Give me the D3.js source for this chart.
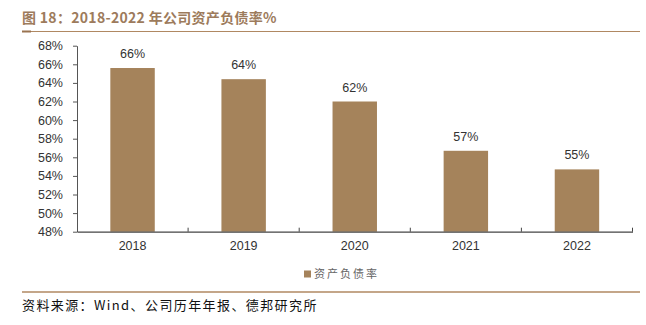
<!DOCTYPE html>
<html>
<head>
<meta charset="utf-8">
<script src="https://cdn.jsdelivr.net/npm/d3@7/dist/d3.min.js"></script>
<style>
  html, body { margin: 0; padding: 0; background: #fff; }
  svg { display: block; }
</style>
</head>
<body>
<svg id="chart" width="646" height="325"></svg>
<script>
// Debt-to-asset ratio by year (%)
const years = ["2018", "2019", "2020", "2021", "2022"];
const ratios = [65.6, 64.4, 62.0, 56.7, 54.7];
const valueLabels = ["66%", "64%", "62%", "57%", "55%"];
const yTicks = [48, 50, 52, 54, 56, 58, 60, 62, 64, 66, 68];
const seriesName = "资产负债率";
const titleText = "图 18：2018-2022 年公司资产负债率%";
const sourceText = "资料来源：Wind、公司历年年报、德邦研究所";

const svg = d3.select("#chart");
const brown = "#a5835b";
const latin = "'Liberation Sans', Arial, sans-serif";
const cjk = "'Noto Sans CJK SC', 'Liberation Sans', sans-serif";

const plot = { left: 77, right: 632.5, top: 45.7, bottom: 231.7 };

const x = d3.scaleBand().domain(years).range([plot.left, plot.right]).paddingInner(0.6).paddingOuter(0.3);
const y = d3.scaleLinear().domain([48, 68]).range([plot.bottom, plot.top]);

// Title and rules
svg.append("text")
  .attr("x", 22).attr("y", 23)
  .attr("font-family", cjk).attr("font-size", 14).attr("font-weight", "bold")
  .attr("letter-spacing", 0.3)
  .attr("fill", "#9d7b5c")
  .text(titleText);
svg.append("line")
  .attr("x1", 22).attr("x2", 640).attr("y1", 31.5).attr("y2", 31.5)
  .attr("stroke", "#b08862").attr("stroke-width", 1.2);
svg.append("line")
  .attr("x1", 22).attr("x2", 31).attr("y1", 31.5).attr("y2", 31.5)
  .attr("stroke", "#9a7350").attr("stroke-width", 2);
svg.append("line")
  .attr("x1", 22).attr("x2", 640).attr("y1", 292).attr("y2", 292)
  .attr("stroke", "#b08862").attr("stroke-width", 1.6);

// Bars
svg.append("g").selectAll("rect")
  .data(years)
  .join("rect")
  .attr("x", (d) => x(d))
  .attr("width", x.bandwidth())
  .attr("y", (d, i) => y(ratios[i]))
  .attr("height", (d, i) => y(48) - y(ratios[i]))
  .attr("fill", brown);

// Value labels
svg.append("g").selectAll("text")
  .data(years)
  .join("text")
  .attr("x", (d) => x(d) + x.bandwidth() / 2)
  .attr("y", (d, i) => y(ratios[i]) - 10)
  .attr("text-anchor", "middle")
  .attr("font-family", latin).attr("font-size", 12.5)
  .attr("fill", "#333")
  .text((d, i) => valueLabels[i]);

// Y axis
const yAxis = svg.append("g")
  .attr("transform", `translate(${plot.left},0)`)
  .call(d3.axisLeft(y).tickValues(yTicks).tickFormat((d) => d + "%").tickSize(4).tickSizeOuter(0));
yAxis.select(".domain").attr("stroke", "#555");
yAxis.selectAll(".tick line").attr("stroke", "#555");
yAxis.selectAll(".tick text")
  .attr("x", -14)
  .attr("font-family", latin).attr("font-size", 12.5).attr("fill", "#333");

// X axis with inward ticks at band boundaries
const xAxis = svg.append("g")
  .attr("transform", `translate(0,${plot.bottom})`)
  .call(d3.axisBottom(x).tickSize(0).tickSizeOuter(0));
xAxis.select(".domain").attr("stroke", "#444").attr("stroke-width", 1.3);
xAxis.selectAll(".tick text")
  .attr("dy", "0.71em").attr("y", 9)
  .attr("font-family", latin).attr("font-size", 12.5).attr("fill", "#333");
const edges = d3.range(1, years.length + 1).map((i) => plot.left + i * (plot.right - plot.left) / years.length);
svg.append("g").selectAll("line")
  .data(edges)
  .join("line")
  .attr("x1", (d) => d).attr("x2", (d) => d)
  .attr("y1", plot.bottom).attr("y2", plot.bottom - 4)
  .attr("stroke", "#444");

// Legend
const legend = svg.append("g").attr("transform", "translate(304,270.5)");
legend.append("rect").attr("width", 7).attr("height", 7).attr("fill", brown);
legend.append("text")
  .attr("x", 10).attr("y", 7.5)
  .attr("font-family", cjk).attr("font-size", 11).attr("fill", "#666")
  .attr("letter-spacing", 2)
  .text(seriesName);

// Source note
svg.append("text")
  .attr("x", 22).attr("y", 310)
  .attr("font-family", cjk).attr("font-size", 13).attr("fill", "#111")
  .attr("letter-spacing", 1.4)
  .text(sourceText);
</script>
</body>
</html>
